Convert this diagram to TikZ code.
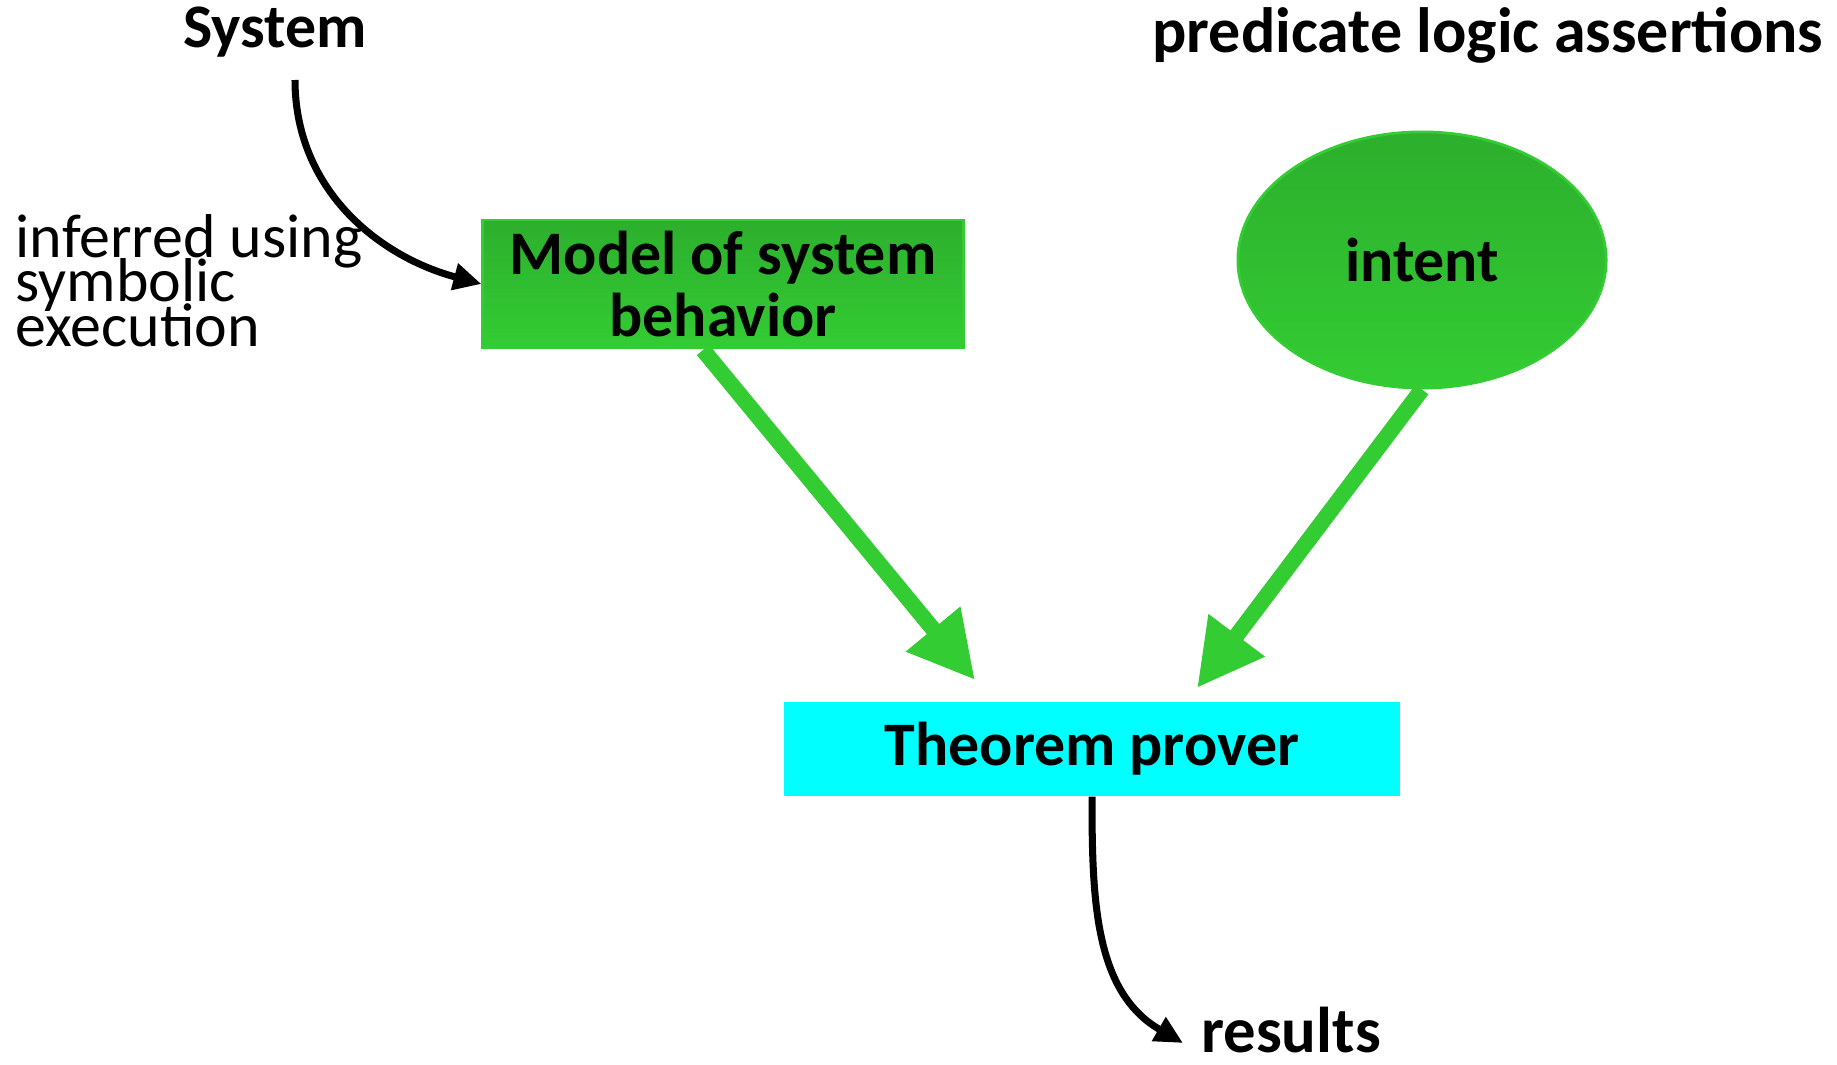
\documentclass[tikz,border=0pt]{standalone}
\usepackage{fontspec}
\setmainfont{Carlito}
\usetikzlibrary{arrows.meta,shapes.geometric,positioning}
\definecolor{topgreen}{HTML}{2DAF2D}
\definecolor{botgreen}{HTML}{33CC33}
\definecolor{provercyan}{HTML}{00FFFF}
\tikzset{
	greenfill/.style={top color=topgreen, bottom color=botgreen, draw=botgreen, line width=0.8pt, inner sep=0pt},
	boldtext/.style={font=\fontsize{17.6}{17.6}\selectfont\bfseries, text=black},
	fatarrow/.style={draw=botgreen, line width=0.16cm, -{Triangle[length=0.66cm, width=0.66cm]}},
	thinarrow/.style={draw=black, line width=2pt, -{Triangle[length=2.8mm, width=2.6mm]}},
}

\begin{document}
\begin{tikzpicture}[x=0.01cm, y=-0.01cm]
		%%%%% START %%%%%
		\useasboundingbox (0, 0) rectangle (1837, 1064);
		
		\node[boldtext] (system) at (275, 32) {System};
		\node[boldtext, font=\fontsize{18.2}{18}\selectfont\bfseries] (assert) at (1488, 35) {predicate logic assertions};
		
		\node[greenfill, boldtext, minimum width=4.8cm, minimum height=1.28cm, align=center] (model) at (723, 284) {Model of system\\behavior};
		\node[greenfill, boldtext, ellipse, minimum width=3.68cm, minimum height=2.56cm] (intent) at (1422, 260) {intent};
		\node[fill=provercyan, boldtext, inner sep=0pt, minimum width=6.16cm, minimum height=0.94cm] (prover) at (1092, 749) {Theorem prover};
		
		\node[font={\fontsize{17.6}{12.6}\selectfont\lineskiplimit=-100pt}, align=left, anchor=north west, inner sep=0pt] (inferred) at (15, 214) {inferred using\\symbolic\\execution};
		\node[boldtext, font=\fontsize{18.4}{18}\selectfont\bfseries] (results) at (1291, 1030) {results};
		
		\coordinate (sysfoot) at (295, 80);
		\coordinate (modelfoot) at (703, 350);
		\coordinate (tipleft) at (975, 680);
		\coordinate (tipright) at (1197, 688);
		\coordinate (resultend) at (1183, 1043);
		
		\draw[thinarrow] (sysfoot) to[out=-90, in=165] (model.west);
		\draw[fatarrow] (modelfoot) -- (tipleft);
		\draw[fatarrow] (intent.south) -- (tipright);
		\draw[thinarrow] (prover.south) to[out=-90, in=150] (resultend);
		
		%%%%% END %%%%%
	\end{tikzpicture}
\end{document}
